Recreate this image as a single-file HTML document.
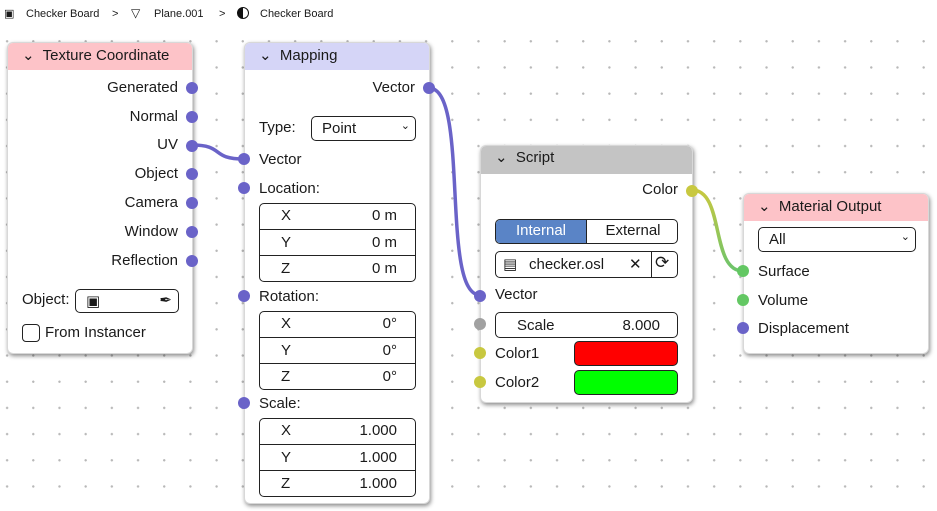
<!DOCTYPE html>
<html><head><meta charset="utf-8"><style>
*{box-sizing:border-box;margin:0;padding:0}
body{width:937px;height:511px;overflow:hidden;position:relative;font-family:"Liberation Sans","DejaVu Sans",sans-serif;font-size:15px;color:#1a1a1a;
background-color:#fff;background-image:radial-gradient(circle,#b8b8b8 1px,transparent 1.4px);background-size:26.2px 26.2px;background-position:-6px 2px}
.a{position:absolute}
.node{position:absolute;background:#fff;border-radius:6px;box-shadow:1px 2px 4px rgba(0,0,0,.45);border:1px solid #d8d8d8}
.hdr{position:absolute;left:0;right:0;top:0;border-radius:5px 5px 0 0;font-size:15px;padding-left:14px}
.sock{position:absolute;width:12px;height:12px;border-radius:50%;background:#6a63c8}
.r{position:absolute;text-align:right}
.box{position:absolute;border:1px solid #222;border-radius:5px;background:#fff}
.row{position:absolute;left:0;right:0;height:26px;border-top:1px solid #222}
.row span{position:absolute;top:4px}
</style></head><body>
<div class="a" style="left:0;top:0;width:937px;height:30px;background:#fff"></div>
<div class="a" style="left:4px;top:7px;font-size:11px">&#9635;</div>
<div class="a" style="left:26px;top:8px;font-size:11px">Checker Board</div>
<div class="a" style="left:112px;top:8px;font-size:11px">&gt;</div>
<div class="a" style="left:131px;top:6px;font-size:12px">&#9661;</div>
<div class="a" style="left:154px;top:8px;font-size:11px">Plane.001</div>
<div class="a" style="left:219px;top:8px;font-size:11px">&gt;</div>
<div class="a" style="left:237px;top:7px;width:12px;height:12px;border-radius:50%;border:1.5px solid #111;background:linear-gradient(90deg,#111 50%,#fff 50%)"></div>
<div class="a" style="left:260px;top:8px;font-size:11px">Checker Board</div>

<svg class="a" style="left:0;top:0" width="937" height="511">
<defs><linearGradient id="g" x1="0" y1="0" x2="0" y2="1"><stop offset="0" stop-color="#c8c840"/><stop offset="1" stop-color="#6cc46c"/></linearGradient></defs>
<path d="M192 145 C225 145,210 159,244 159" stroke="#6a63c8" stroke-width="3.5" fill="none"/>
<path d="M429 88 C470 88,440 295,480 295" stroke="#6a63c8" stroke-width="3.5" fill="none"/>
<path d="M692 190 C725 190,710 271,743 271" stroke="url(#g)" stroke-width="3.5" fill="none"/>
</svg>

<!-- Texture Coordinate -->
<div class="node" style="left:7px;top:42px;width:186px;height:312px">
<div class="hdr" style="background:#fdc3c8;height:27px;line-height:26px">&#8964;&nbsp; Texture Coordinate</div>
<div class="r" style="right:14px;top:36px">Generated</div>
<div class="r" style="right:14px;top:65px">Normal</div>
<div class="r" style="right:14px;top:93px">UV</div>
<div class="r" style="right:14px;top:122px">Object</div>
<div class="r" style="right:14px;top:151px">Camera</div>
<div class="r" style="right:14px;top:180px">Window</div>
<div class="r" style="right:14px;top:209px">Reflection</div>
<div class="a" style="left:14px;top:248px">Object:</div>
<div class="box" style="left:67px;top:246px;width:104px;height:24px"><span class="a" style="left:10px;top:2px">&#9635;</span><span class="a" style="right:6px;top:1px">&#10002;</span></div>
<div class="a" style="left:14px;top:281px;width:18px;height:18px;border:1px solid #222;border-radius:4px"></div>
<div class="a" style="left:37px;top:281px">From Instancer</div>
</div>
<div class="sock" style="left:186px;top:82px"></div>
<div class="sock" style="left:186px;top:111px"></div>
<div class="sock" style="left:186px;top:140px"></div>
<div class="sock" style="left:186px;top:168px"></div>
<div class="sock" style="left:186px;top:197px"></div>
<div class="sock" style="left:186px;top:226px"></div>
<div class="sock" style="left:186px;top:255px"></div>

<!-- Mapping -->
<div class="node" style="left:244px;top:42px;width:186px;height:462px">
<div class="hdr" style="background:#d5d5f7;height:27px;line-height:26px">&#8964;&nbsp; Mapping</div>
<div class="r" style="right:14px;top:36px">Vector</div>
<div class="a" style="left:14px;top:76px">Type:</div>
<div class="box" style="left:66px;top:73px;width:105px;height:25px"><span class="a" style="left:10px;top:3px">Point</span><span class="a" style="right:5px;top:2px;font-size:11px">&#8964;</span></div>
<div class="a" style="left:14px;top:108px">Vector</div>
<div class="a" style="left:14px;top:137px">Location:</div>
<div class="box" style="left:14px;top:160px;width:157px;height:79px">
<div class="row" style="top:-1px;border:0"><span style="left:21px">X</span><span style="right:18px">0 m</span></div>
<div class="row" style="top:25px"><span style="left:21px">Y</span><span style="right:18px">0 m</span></div>
<div class="row" style="top:51px"><span style="left:21px">Z</span><span style="right:18px">0 m</span></div></div>
<div class="a" style="left:14px;top:245px">Rotation:</div>
<div class="box" style="left:14px;top:268px;width:157px;height:79px">
<div class="row" style="top:-1px;border:0"><span style="left:21px">X</span><span style="right:18px">0°</span></div>
<div class="row" style="top:25px"><span style="left:21px">Y</span><span style="right:18px">0°</span></div>
<div class="row" style="top:51px"><span style="left:21px">Z</span><span style="right:18px">0°</span></div></div>
<div class="a" style="left:14px;top:352px">Scale:</div>
<div class="box" style="left:14px;top:375px;width:157px;height:79px">
<div class="row" style="top:-1px;border:0"><span style="left:21px">X</span><span style="right:18px">1.000</span></div>
<div class="row" style="top:25px"><span style="left:21px">Y</span><span style="right:18px">1.000</span></div>
<div class="row" style="top:51px"><span style="left:21px">Z</span><span style="right:18px">1.000</span></div></div>
</div>
<div class="sock" style="left:423px;top:82px"></div>
<div class="sock" style="left:238px;top:153px"></div>
<div class="sock" style="left:238px;top:182px"></div>
<div class="sock" style="left:238px;top:290px"></div>
<div class="sock" style="left:238px;top:397px"></div>

<!-- Script -->
<div class="node" style="left:480px;top:145px;width:213px;height:258px">
<div class="hdr" style="background:#c4c4c4;height:28px;line-height:24px">&#8964;&nbsp; Script</div>
<div class="r" style="right:14px;top:35px">Color</div>
<div class="box" style="left:14px;top:73px;width:183px;height:25px;overflow:hidden">
<div class="a" style="left:0;top:0;width:91px;height:25px;background:#5a84c6;color:#fff;text-align:center;line-height:22px;border-right:1px solid #222">Internal</div>
<div class="a" style="left:91px;top:0;width:92px;text-align:center;line-height:22px">External</div></div>
<div class="box" style="left:14px;top:105px;width:183px;height:27px">
<span class="a" style="left:7px;top:3px">&#9636;</span><span class="a" style="left:33px;top:4px">checker.osl</span><span class="a" style="left:133px;top:3px">&#10005;</span>
<div class="a" style="left:155px;top:0;width:1px;height:25px;background:#222"></div><span class="a" style="left:159px;top:1px;font-size:17px">&#10227;</span></div>
<div class="a" style="left:14px;top:140px">Vector</div>
<div class="box" style="left:14px;top:166px;width:183px;height:26px"><span class="a" style="left:21px;top:4px">Scale</span><span class="a" style="right:17px;top:4px">8.000</span></div>
<div class="a" style="left:14px;top:199px">Color1</div>
<div class="box" style="left:93px;top:195px;width:104px;height:25px;background:#f00"></div>
<div class="a" style="left:14px;top:228px">Color2</div>
<div class="box" style="left:93px;top:224px;width:104px;height:25px;background:#0f0"></div>
</div>
<div class="sock" style="left:686px;top:185px;background:#c8c840"></div>
<div class="sock" style="left:474px;top:290px"></div>
<div class="sock" style="left:474px;top:318px;background:#a1a1a1"></div>
<div class="sock" style="left:474px;top:347px;background:#c8c840"></div>
<div class="sock" style="left:474px;top:376px;background:#c8c840"></div>

<!-- Material Output -->
<div class="node" style="left:743px;top:193px;width:186px;height:161px">
<div class="hdr" style="background:#fdc3c8;height:27px;line-height:26px">&#8964;&nbsp; Material Output</div>
<div class="box" style="left:14px;top:33px;width:158px;height:25px"><span class="a" style="left:10px;top:3px">All</span><span class="a" style="right:5px;top:2px;font-size:11px">&#8964;</span></div>
<div class="a" style="left:14px;top:69px">Surface</div>
<div class="a" style="left:14px;top:98px">Volume</div>
<div class="a" style="left:14px;top:126px">Displacement</div>
</div>
<div class="sock" style="left:737px;top:265px;background:#63c763"></div>
<div class="sock" style="left:737px;top:294px;background:#63c763"></div>
<div class="sock" style="left:737px;top:322px"></div>
</body></html>
